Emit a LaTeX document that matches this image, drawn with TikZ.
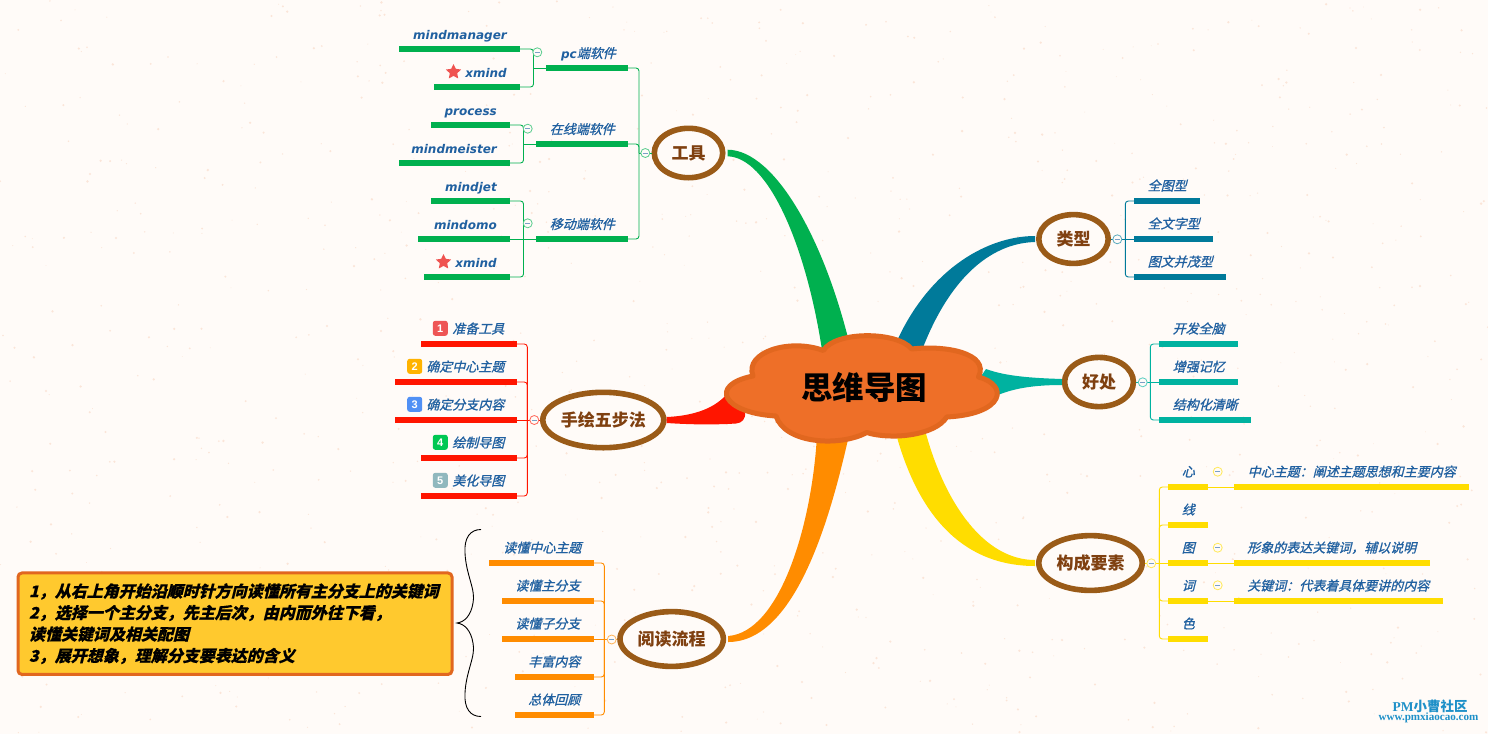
\documentclass[tikz,border=0pt]{standalone}
\usepackage{fontspec}
\usetikzlibrary{shapes.geometric}
\setmainfont{Liberation Sans}
\newfontfamily\leaffont[FakeSlant=0.25,FakeBold=1]{Noto Sans CJK SC}
\newfontfamily\hintfont[FakeSlant=0.25,FakeBold=0.4]{Noto Sans CJK SC}
\newfontfamily\latinfont{DejaVu Sans}
\newfontfamily\topicfont{Noto Sans CJK SC}
\newfontfamily\markfont{Liberation Serif}
\newcommand{\lat}[1]{{\latinfont\bfseries\itshape\fontsize{12}{13}\selectfont #1}}
\definecolor{paper}{HTML}{FFFBF8}
\definecolor{speck}{HTML}{FBE5D8}
\definecolor{brGreen}{HTML}{00B04F}
\definecolor{brPetrol}{HTML}{007A9A}
\definecolor{brTeal}{HTML}{00B2A0}
\definecolor{brYellow}{HTML}{FFDD00}
\definecolor{brOrange}{HTML}{FF8C00}
\definecolor{brRed}{HTML}{FF1500}
\definecolor{ringBrown}{HTML}{9A5B18}
\definecolor{topicBrown}{HTML}{7F4010}
\definecolor{leafBlue}{HTML}{2060A0}
\definecolor{cloudFill}{HTML}{EE6F28}
\definecolor{cloudLine}{HTML}{E1671F}
\definecolor{noteFill}{HTML}{FFC92E}
\definecolor{markBlue}{HTML}{1E90C8}
\definecolor{badgeRed}{HTML}{EE5555}
\definecolor{badgeAmber}{HTML}{FFB300}
\definecolor{badgeBlue}{HTML}{5090F5}
\definecolor{badgeGreen}{HTML}{00C853}
\definecolor{badgeGrey}{HTML}{90B8BE}
\definecolor{starRed}{HTML}{EF5350}
\tikzset{
  bar/.style={fill=#1,inner sep=0,minimum height=6},
  link/.style={draw=#1,line width=0.9,rounded corners=3},
  leaf/.style={font=\leaffont\fontsize{13}{13}\selectfont,text=leafBlue,inner sep=0,text height=11,text depth=2},
  topic/.style={ellipse,draw=ringBrown,line width=5.6,fill=paper,inner sep=0,
    font=\topicfont\bfseries\fontsize{17}{17}\selectfont,text=topicBrown},
  collapse/.style={circle,draw=#1!65!white,line width=0.8,fill=paper,inner sep=0,minimum size=9,
    path picture={\draw[line width=0.7,color=leafBlue!60!white]
      ([xshift=-2.5]path picture bounding box.center) -- ([xshift=2.5]path picture bounding box.center);}},
  badge/.style={fill=#1,rounded corners=2.5,inner sep=0,minimum size=15,text=white,
    font=\bfseries\fontsize{11}{11}\selectfont},
  favstar/.style={star,star points=5,star point ratio=2.05,fill=starRed,inner sep=0,minimum size=16}
}
\begin{document}
\begin{tikzpicture}[x=1pt,y=-1pt]
  \useasboundingbox (0,0) rectangle (1488,734);
  \fill[paper] (0,0) rectangle (1488,734);
  %Papierflecken
  \pgfmathsetseed{41}
  \foreach \i in {1,...,1000}
    \fill[speck] ({rnd*1488},{rnd*734}) circle ({0.4+rnd*0.9});

  %Hauptthemen
  \node[topic,minimum width=68.4,minimum height=49.4] (tools) at (688.5,153) {工具};
  \node[topic,minimum width=69.4,minimum height=48.8] (types) at (1073.5,239) {类型};
  \node[topic,minimum width=68.8,minimum height=49.2] (gains) at (1099,382) {好处};
  \node[topic,minimum width=103.4,minimum height=54.8] (parts) at (1090.5,563) {构成要素};
  \node[topic,minimum width=103.4,minimum height=54.8] (reading) at (671.7,639) {阅读流程};
  \node[topic,minimum width=121,minimum height=55.4] (steps) at (603.3,420) {手绘五步法};

  %Aeste
  \fill[brGreen] ([xshift=2,yshift=3.3]tools.east) .. controls (775,150) and (825,240) .. (851,350)
    -- (822,350) .. controls (806,245) and (768,157) .. ([xshift=2,yshift=-3.3]tools.east) -- cycle;
  \fill[brPetrol] ([xshift=-1,yshift=3]types.west) .. controls (985,236) and (925,272) .. (893,350)
    -- (922,350) .. controls (952,272) and (995,243) .. ([xshift=-1,yshift=-3]types.west) -- cycle;
  \fill[brTeal] ([yshift=3]gains.west) .. controls (1030,378) and (1005,376) .. (986,369)
    -- (975,385) -- (998,395) .. controls (1015,388) and (1035,385) .. ([yshift=-3]gains.west) -- cycle;
  \fill[brYellow] ([xshift=-1,yshift=3]parts.west) .. controls (985,560) and (945,505) .. (925,430)
    -- (895,430) .. controls (920,525) and (970,566) .. ([xshift=-1,yshift=-3]parts.west) -- cycle;
  \fill[brOrange] ([xshift=2,yshift=3]reading.east) .. controls (780,632) and (812,525) .. (817,435)
    -- (849,435) .. controls (830,520) and (795,642) .. ([xshift=2,yshift=-3]reading.east) -- cycle;
  \fill[brRed] ([yshift=3]steps.east) .. controls (690,416) and (712,410) .. (725,396)
    -- (745,412) .. controls (746,419) and (742,423) .. (736,423.5)
    .. controls (712,425) and (690,424.5) .. ([yshift=-3]steps.east) -- cycle;

  %Wolke
  \draw[fill=cloudFill,draw=cloudLine,line width=5,line join=round]
    (753,376) .. controls (744,352) and (790,338) .. (823.3,350.5)
    .. controls (835,331) and (897,331) .. (911.7,349)
    .. controls (945,345) and (990,353) .. (978.5,377)
    .. controls (1009,385) and (1005,414) .. (946.7,417)
    .. controls (935,436) and (890,440) .. (866.7,432.5)
    .. controls (840,447) and (785,444) .. (776,416)
    .. controls (723,413) and (708,385) .. (753,376) -- cycle;
  \node[font=\topicfont\bfseries\fontsize{31.5}{32}\selectfont,text=black,inner sep=0] (mindmap) at (864,387) {思维导图};

  %Werkzeuge
  \node[bar=brGreen,anchor=east,minimum width=121] (mindmanager) at (520,49) {};
  \node[bar=brGreen,anchor=east,minimum width=86] (xmindA) at (520,87) {};
  \node[bar=brGreen,anchor=east,minimum width=82] (pc) at (628,68) {};
  \node[bar=brGreen,anchor=east,minimum width=79] (process) at (510,125) {};
  \node[bar=brGreen,anchor=east,minimum width=111] (mindmeister) at (510,163) {};
  \node[bar=brGreen,anchor=east,minimum width=92] (online) at (628,144) {};
  \node[bar=brGreen,anchor=east,minimum width=79] (mindjet) at (510,201) {};
  \node[bar=brGreen,anchor=east,minimum width=92] (mindomo) at (510,239) {};
  \node[bar=brGreen,anchor=east,minimum width=86] (xmindB) at (510,277) {};
  \node[bar=brGreen,anchor=east,minimum width=92] (mobile) at (628,239) {};
  \node[leaf,anchor=east] (mindmanagerT) at (507,34.5) {\lat{mindmanager}};
  \node[leaf,anchor=east] (xmindAT) at (507,72.5) {\lat{xmind}};
  \node[leaf,anchor=east] (pcT) at (616,53.5) {\lat{pc}端软件};
  \node[leaf,anchor=east] (processT) at (497,110.5) {\lat{process}};
  \node[leaf,anchor=east] (mindmeisterT) at (497,148.5) {\lat{mindmeister}};
  \node[leaf,anchor=east] (onlineT) at (615,129.5) {在线端软件};
  \node[leaf,anchor=east] (mindjetT) at (497,186.5) {\lat{mindjet}};
  \node[leaf,anchor=east] (mindomoT) at (497,224.5) {\lat{mindomo}};
  \node[leaf,anchor=east] (xmindBT) at (497,262.5) {\lat{xmind}};
  \node[leaf,anchor=east] (mobileT) at (615,224.5) {移动端软件};
  \node[favstar] (starA) at (453.5,72) {};
  \node[favstar] (starB) at (443.5,262) {};
  \coordinate (toolsbus) at (639,153);
  \coordinate (pcbus) at (533.5,68);
  \coordinate (onlinebus) at (523.5,144);
  \coordinate (mobilebus) at (523.5,239);
  \draw[link=brGreen] (pc.east) -| (toolsbus);
  \draw[link=brGreen] (online.east) -| (toolsbus);
  \draw[link=brGreen] (mobile.east) -| (toolsbus);
  \draw[link=brGreen] (toolsbus) -- (tools);
  \draw[link=brGreen] (mindmanager.east) -| (pcbus);
  \draw[link=brGreen] (xmindA.east) -| (pcbus);
  \draw[link=brGreen] (pcbus) -- (pc.west);
  \draw[link=brGreen] (process.east) -| (onlinebus);
  \draw[link=brGreen] (mindmeister.east) -| (onlinebus);
  \draw[link=brGreen] (onlinebus) -- (online.west);
  \draw[link=brGreen] (mindjet.east) -| (mobilebus);
  \draw[link=brGreen] (xmindB.east) -| (mobilebus);
  \draw[link=brGreen] (mindomo.east) -- (mobile.west);
  \node[collapse=brGreen] (toolsC) at (645.3,153) {};
  \node[collapse=brGreen] (pcC) at (537.3,52.3) {};
  \node[collapse=brGreen] (onlineC) at (527.7,128.7) {};
  \node[collapse=brGreen] (mobileC) at (527.7,223.3) {};

  %Fuenf Schritte
  \node[bar=brRed,anchor=east,minimum width=96] (stepA) at (517,344) {};
  \node[bar=brRed,anchor=east,minimum width=122] (stepB) at (517,382) {};
  \node[bar=brRed,anchor=east,minimum width=122] (stepC) at (517,420) {};
  \node[bar=brRed,anchor=east,minimum width=96] (stepD) at (517,458) {};
  \node[bar=brRed,anchor=east,minimum width=96] (stepE) at (517,496) {};
  \node[leaf,anchor=east] (stepAT) at (504.5,329) {准备工具};
  \node[leaf,anchor=east] (stepBT) at (504.5,367) {确定中心主题};
  \node[leaf,anchor=east] (stepCT) at (504.5,405) {确定分支内容};
  \node[leaf,anchor=east] (stepDT) at (504.5,443) {绘制导图};
  \node[leaf,anchor=east] (stepET) at (504.5,481) {美化导图};
  \node[badge=badgeRed] (badgeA) at (440.3,328.3) {1};
  \node[badge=badgeAmber] (badgeB) at (414.7,366.3) {2};
  \node[badge=badgeBlue] (badgeC) at (414.7,404.3) {3};
  \node[badge=badgeGreen] (badgeD) at (440.3,442.3) {4};
  \node[badge=badgeGrey] (badgeE) at (440.3,480.3) {5};
  \coordinate (stepsbus) at (527.3,420);
  \draw[link=brRed] (stepA.east) -| (stepsbus);
  \draw[link=brRed] (stepB.east) -| (stepsbus);
  \draw[link=brRed] (stepD.east) -| (stepsbus);
  \draw[link=brRed] (stepE.east) -| (stepsbus);
  \draw[link=brRed] (stepC.east) -- (steps);
  \node[collapse=brRed] (stepsC) at (534.3,420) {};

  %Lesefluss
  \node[bar=brOrange,anchor=east,minimum width=105] (readA) at (594,563) {};
  \node[bar=brOrange,anchor=east,minimum width=92] (readB) at (594,601) {};
  \node[bar=brOrange,anchor=east,minimum width=92] (readC) at (594,639) {};
  \node[bar=brOrange,anchor=east,minimum width=79] (readD) at (594,677) {};
  \node[bar=brOrange,anchor=east,minimum width=79] (readE) at (594,715) {};
  \node[leaf,anchor=east] (readAT) at (581.5,548) {读懂中心主题};
  \node[leaf,anchor=east] (readBT) at (580.5,586) {读懂主分支};
  \node[leaf,anchor=east] (readCT) at (580.5,624) {读懂子分支};
  \node[leaf,anchor=east] (readDT) at (580.5,662) {丰富内容};
  \node[leaf,anchor=east] (readET) at (580.5,700) {总体回顾};
  \coordinate (readbus) at (604.3,639);
  \draw[link=brOrange] (readA.east) -| (readbus);
  \draw[link=brOrange] (readB.east) -| (readbus);
  \draw[link=brOrange] (readD.east) -| (readbus);
  \draw[link=brOrange] (readE.east) -| (readbus);
  \draw[link=brOrange] (readC.east) -- (reading);
  \node[collapse=brOrange] (readingC) at (611.7,639.5) {};

  %Typen
  \node[bar=brPetrol,anchor=west,minimum width=66] (typeA) at (1134,201) {};
  \node[bar=brPetrol,anchor=west,minimum width=79] (typeB) at (1134,239) {};
  \node[bar=brPetrol,anchor=west,minimum width=92] (typeC) at (1134,277) {};
  \node[leaf,anchor=west] (typeAT) at (1147.5,186) {全图型};
  \node[leaf,anchor=west] (typeBT) at (1147.5,224) {全文字型};
  \node[leaf,anchor=west] (typeCT) at (1147.5,262) {图文并茂型};
  \coordinate (typesbus) at (1125.3,239);
  \draw[link=brPetrol] (typeA.west) -| (typesbus);
  \draw[link=brPetrol] (typeC.west) -| (typesbus);
  \draw[link=brPetrol] (typeB.west) -- (types);
  \node[collapse=brPetrol] (typesC) at (1117.3,239.3) {};

  %Nutzen
  \node[bar=brTeal,anchor=west,minimum width=79] (gainA) at (1159,344) {};
  \node[bar=brTeal,anchor=west,minimum width=79] (gainB) at (1159,382) {};
  \node[bar=brTeal,anchor=west,minimum width=92] (gainC) at (1159,420) {};
  \node[leaf,anchor=west] (gainAT) at (1172.5,329) {开发全脑};
  \node[leaf,anchor=west] (gainBT) at (1172.5,367) {增强记忆};
  \node[leaf,anchor=west] (gainCT) at (1172.5,405) {结构化清晰};
  \coordinate (gainsbus) at (1150.3,382);
  \draw[link=brTeal] (gainA.west) -| (gainsbus);
  \draw[link=brTeal] (gainC.west) -| (gainsbus);
  \draw[link=brTeal] (gainB.west) -- (gains);
  \node[collapse=brTeal] (gainsC) at (1142.7,382.3) {};

  %Bestandteile
  \node[bar=brYellow,anchor=west,minimum width=40] (partA) at (1168,487) {};
  \node[bar=brYellow,anchor=west,minimum width=40] (partB) at (1168,525) {};
  \node[bar=brYellow,anchor=west,minimum width=40] (partC) at (1168,563) {};
  \node[bar=brYellow,anchor=west,minimum width=40] (partD) at (1168,601) {};
  \node[bar=brYellow,anchor=west,minimum width=40] (partE) at (1168,639) {};
  \node[leaf] (partAT) at (1188.3,472) {心};
  \node[leaf] (partBT) at (1188.3,510) {线};
  \node[leaf] (partCT) at (1188.3,548) {图};
  \node[leaf] (partDT) at (1188.3,586) {词};
  \node[leaf] (partET) at (1188.3,624) {色};
  \node[bar=brYellow,anchor=west,minimum width=235] (noteA) at (1234,487) {};
  \node[bar=brYellow,anchor=west,minimum width=196] (noteC) at (1234,563) {};
  \node[bar=brYellow,anchor=west,minimum width=209] (noteD) at (1234,601) {};
  \node[leaf,anchor=west] (noteAT) at (1247.5,472) {中心主题：阐述主题思想和主要内容};
  \node[leaf,anchor=west] (noteCT) at (1247,548) {形象的表达关键词，辅以说明};
  \node[leaf,anchor=west] (noteDT) at (1247,586) {关键词：代表着具体要讲的内容};
  \coordinate (partsbus) at (1159.3,563);
  \draw[link=brYellow] (partA.west) -| (partsbus);
  \draw[link=brYellow] (partB.west) -| (partsbus);
  \draw[link=brYellow] (partD.west) -| (partsbus);
  \draw[link=brYellow] (partE.west) -| (partsbus);
  \draw[link=brYellow] (partC.west) -- (parts);
  \draw[link=brYellow] (partA.east) -- (noteA.west);
  \draw[link=brYellow] (partC.east) -- (noteC.west);
  \draw[link=brYellow] (partD.east) -- (noteD.west);
  \node[collapse=brYellow] (partsC) at (1151.3,563.3) {};
  \node[collapse=brYellow] (partAC) at (1217.7,471.7) {};
  \node[collapse=brYellow] (partCC) at (1217.7,547.7) {};
  \node[collapse=brYellow] (partDC) at (1217.7,585.3) {};

  %Hinweis und Klammer
  \node[draw=cloudLine,fill=noteFill,line width=3,rounded corners=4,minimum width=434,minimum height=101.5,
    inner sep=0,text width=412,align=left,text=black,font=\hintfont\bfseries\fontsize{16}{21.5}\selectfont]
    (hint) at (235,623.7) {1，从右上角开始沿顺时针方向读懂所有主分支上的关键词\\
      2，选择一个主分支，先主后次，由内而外往下看，\\
      读懂关键词及相关配图\\
      3，展开想象，理解分支要表达的含义};
  \coordinate (braceTip) at (457,623);
  \draw[line width=0.9,black] (481,529.5) .. controls (470,529.5) and (464,538) .. (465,553)
    .. controls (466,575) and (476,590) .. (473,603) .. controls (471,615) and (465,622) .. (braceTip)
    .. controls (465,624) and (471,631) .. (473,643) .. controls (476,656) and (466,671) .. (465,693)
    .. controls (464,708) and (470,716.5) .. (481,716.5);

  %Logo
  \node[text=markBlue,inner sep=0,font=\markfont\bfseries\fontsize{13.5}{14}\selectfont] (markA) at (1430,706.5)
    {PM{\topicfont 小曹社区}};
  \node[text=markBlue,inner sep=0,font=\markfont\bfseries\fontsize{11.1}{12}\selectfont] (markB) at (1428.5,718)
    {www.pmxiaocao.com};
\end{tikzpicture}
\end{document}
